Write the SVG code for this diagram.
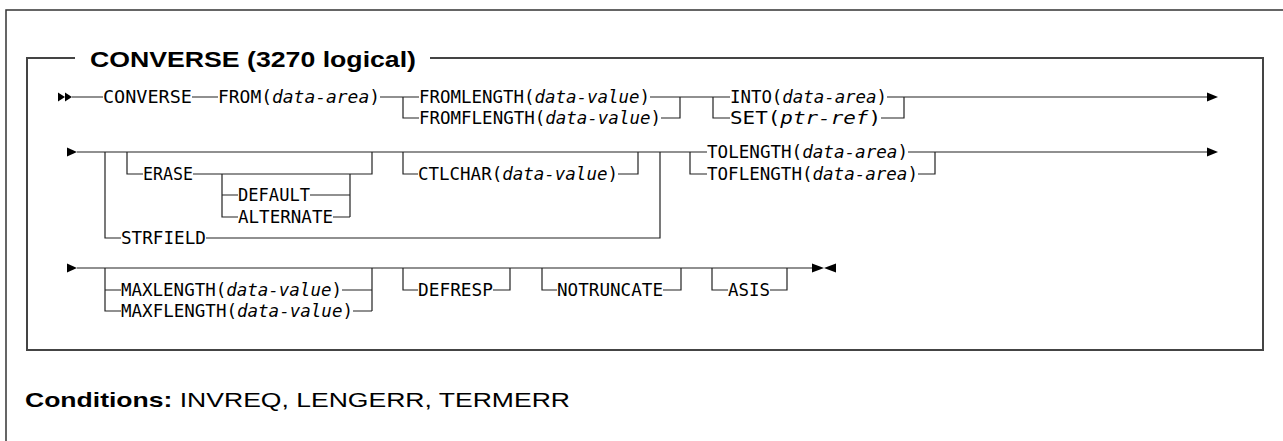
<svg xmlns="http://www.w3.org/2000/svg" width="1283" height="441" viewBox="0 0 1283 441">
<style>
.frame{fill:none;stroke:#333;stroke-width:1.5}
.box{fill:none;stroke:#444;stroke-width:2}
.c{fill:none;stroke:#222;stroke-width:1.2}
.t{font-family:"DejaVu Sans Mono","Liberation Mono",monospace;font-size:17px;fill:#000}
.i{font-style:italic}
.title{font-family:"Liberation Sans",Arial,sans-serif;font-weight:bold;font-size:22px;fill:#000}
.cond{font-family:"Liberation Sans",Arial,sans-serif;font-size:21px;fill:#000}
.ar{fill:#000}
</style>
<rect width="1283" height="441" fill="#fff"/>
<path class="frame" d="M1283,10 H6 V441"/>
<path class="box" d="M75,58 H27 V350 H1263 V58 H430"/>
<text class="title" x="90" y="67" textLength="326" lengthAdjust="spacingAndGlyphs">CONVERSE (3270 logical)</text>

<g id="connectors">
<path class="c" d="M72,97 H103 M192,97 H218 M380,97 H419 M403,97 V118 H419 M650,97 H730 M661,118 H680 V97 M713,97 V118 H730 M887,97 H1208 M881,118 H904 V97"/>
<path class="c" d="M77,152 H707 M105,152 V238 H121 M206,238 H660 V152 M127,152 V174 H143 M193,174 H372 V152 M222,174 V217 H238 M222,195 H238 M310,195 H350 M333,217 H350 M350,174 V217 M403,152 V174 H418 M618,174 H638 V152 M690,152 V174 H707 M908,152 H1208 M918,174 H935 V152"/>
<path class="c" d="M77,268 H813 M105,268 V311 H121 M105,290 H121 M342,290 H372 M353,311 H372 M372,268 V311 M403,268 V290 H418 M493,290 H510 V268 M542,268 V290 H557 M663,290 H681 V268 M712,268 V290 H728 M770,290 H787 V268"/>
<polygon class="ar" points="58,92.5 65,97 58,101.5"/>
<polygon class="ar" points="65,92.5 72,97 65,101.5"/>
<polygon class="ar" points="1207,92.5 1218,97 1207,101.5"/>
<polygon class="ar" points="67,147.5 77,152 67,156.5"/>
<polygon class="ar" points="1207,147.5 1218,152 1207,156.5"/>
<polygon class="ar" points="67,263.5 77,268 67,272.5"/>
<polygon class="ar" points="812,263.5 824,268 812,272.5"/>
<polygon class="ar" points="836,263.5 824,268 836,272.5"/>
</g>

<g id="n-converse"><text class="t" x="103" y="103" textLength="89" lengthAdjust="spacingAndGlyphs">CONVERSE</text></g>
<g id="n-from"><text class="t" x="218" y="103" textLength="162" lengthAdjust="spacingAndGlyphs">FROM(<tspan class="i">data-area</tspan>)</text></g>
<g id="n-fromlength"><text class="t" x="419" y="103" textLength="231" lengthAdjust="spacingAndGlyphs">FROMLENGTH(<tspan class="i">data-value</tspan>)</text></g>
<g id="n-fromflength"><text class="t" x="419" y="124" textLength="242" lengthAdjust="spacingAndGlyphs">FROMFLENGTH(<tspan class="i">data-value</tspan>)</text></g>
<g id="n-into"><text class="t" x="730" y="103" textLength="157" lengthAdjust="spacingAndGlyphs">INTO(<tspan class="i">data-area</tspan>)</text></g>
<g id="n-set"><text class="t" x="730" y="124" textLength="151" lengthAdjust="spacingAndGlyphs">SET(<tspan class="i">ptr-ref</tspan>)</text></g>

<g id="n-erase"><text class="t" x="143" y="180" textLength="50" lengthAdjust="spacingAndGlyphs">ERASE</text></g>
<g id="n-default"><text class="t" x="238" y="201" textLength="72" lengthAdjust="spacingAndGlyphs">DEFAULT</text></g>
<g id="n-alternate"><text class="t" x="238" y="223" textLength="95" lengthAdjust="spacingAndGlyphs">ALTERNATE</text></g>
<g id="n-strfield"><text class="t" x="121" y="244" textLength="85" lengthAdjust="spacingAndGlyphs">STRFIELD</text></g>
<g id="n-ctlchar"><text class="t" x="418" y="180" textLength="200" lengthAdjust="spacingAndGlyphs">CTLCHAR(<tspan class="i">data-value</tspan>)</text></g>
<g id="n-tolength"><text class="t" x="707" y="158" textLength="201" lengthAdjust="spacingAndGlyphs">TOLENGTH(<tspan class="i">data-area</tspan>)</text></g>
<g id="n-toflength"><text class="t" x="707" y="180" textLength="211" lengthAdjust="spacingAndGlyphs">TOFLENGTH(<tspan class="i">data-area</tspan>)</text></g>

<g id="n-maxlength"><text class="t" x="121" y="296" textLength="221" lengthAdjust="spacingAndGlyphs">MAXLENGTH(<tspan class="i">data-value</tspan>)</text></g>
<g id="n-maxflength"><text class="t" x="121" y="317" textLength="232" lengthAdjust="spacingAndGlyphs">MAXFLENGTH(<tspan class="i">data-value</tspan>)</text></g>
<g id="n-defresp"><text class="t" x="418" y="296" textLength="75" lengthAdjust="spacingAndGlyphs">DEFRESP</text></g>
<g id="n-notruncate"><text class="t" x="557" y="296" textLength="106" lengthAdjust="spacingAndGlyphs">NOTRUNCATE</text></g>
<g id="n-asis"><text class="t" x="728" y="296" textLength="42" lengthAdjust="spacingAndGlyphs">ASIS</text></g>

<g id="conditions"><text class="cond" x="25" y="407" textLength="545" lengthAdjust="spacingAndGlyphs"><tspan font-weight="bold">Conditions:</tspan> INVREQ, LENGERR, TERMERR</text></g>
</svg>
